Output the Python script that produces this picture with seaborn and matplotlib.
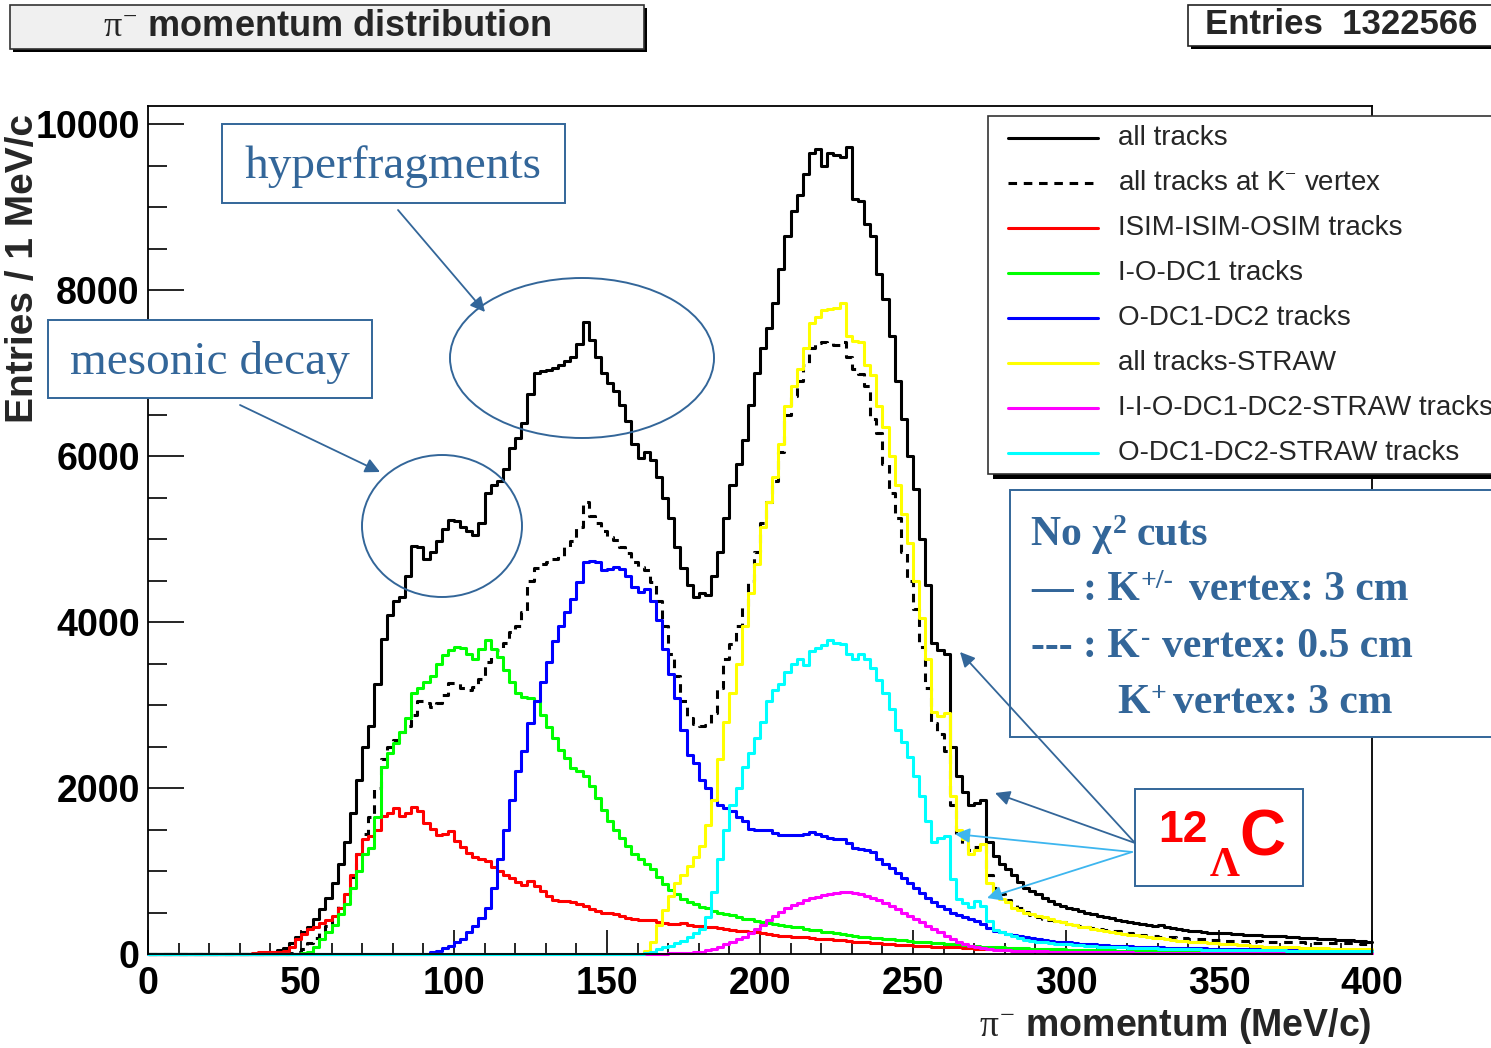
import numpy as np
import pandas as pd
import matplotlib
matplotlib.use("Agg")
import matplotlib.pyplot as plt
import seaborn as sns
from matplotlib.patches import Rectangle, Ellipse, FancyArrowPatch
from matplotlib.lines import Line2D

# ---------------------------------------------------------------------------
# Histogram contents, 2 MeV/c bins from 0 to 400 MeV/c.
# Each series starts at the given momentum; earlier bins are empty.
# ---------------------------------------------------------------------------
BIN_WIDTH = 2
P_MAX = 400

all_tracks_start = 40
all_tracks = [
    30, 45, 70, 130, 200, 260, 330, 420, 540, 680,
    850, 1080, 1350, 1700, 2100, 2500, 2750, 3250, 3800, 4080,
    4250, 4300, 4550, 4920, 4900, 4760, 4850, 4980, 5120, 5230,
    5220, 5150, 5100, 5050, 5200, 5550, 5650, 5700, 5850, 6100,
    6220, 6400, 6750, 7000, 7030, 7040, 7060, 7100, 7150, 7200,
    7350, 7620, 7400, 7200, 7000, 6880, 6780, 6620, 6420, 6150,
    5980, 6050, 5950, 5750, 5500, 5250, 4900, 4650, 4450, 4300,
    4350, 4330, 4550, 4850, 5250, 5650, 5900, 6200, 6620, 7000,
    7300, 7550, 7850, 8250, 8650, 8950, 9150, 9400, 9650, 9700,
    9500, 9650, 9630, 9600, 9720, 9100, 9080, 8800, 8650, 8200,
    7900, 7450, 6900, 6450, 6000, 5600, 5000, 4450, 3750, 3660,
    3620, 2500, 2150, 1950, 1800, 1820, 1850, 1350, 1180, 1080,
    1020, 950, 870, 800, 760, 720, 680, 640, 600, 580,
    560, 545, 520, 500, 485, 460, 445, 430, 410, 400,
    380, 372, 360, 352, 340, 345, 322, 310, 302, 290,
    280, 272, 262, 258, 250, 255, 248, 240, 242, 232,
    230, 232, 222, 220, 212, 215, 205, 200, 196, 190,
    190, 186, 180, 178, 172, 170, 165, 162, 158, 150,
]

kminus_vertex_start = 40
kminus_vertex = [
    0, 0, 0, 10, 30, 60, 130, 190, 260, 340,
    450, 580, 720, 930, 1200, 1450, 1650, 2000, 2350, 2500,
    2580, 2680, 2750, 2880, 3050, 3020, 2980, 3020, 3120, 3270,
    3270, 3200, 3180, 3220, 3320, 3520, 3580, 3660, 3750, 3880,
    3950, 4120, 4500, 4650, 4700, 4730, 4760, 4800, 4900, 4980,
    5150, 5450, 5280, 5200, 5100, 5030, 4990, 4900, 4830, 4720,
    4660, 4630, 4480, 4250, 3950, 3620, 3350, 3050, 2850, 2770,
    2750, 2760, 2900, 3200, 3550, 3740, 3950, 4200, 4500, 4850,
    5200, 5450, 5700, 6050, 6500, 6720, 6900, 7100, 7300, 7360,
    7380, 7360, 7340, 7370, 7200, 7050, 6990, 6850, 6450, 6280,
    5900, 5550, 5250, 4850, 4500, 4160, 3700, 3200, 2780, 2650,
    2450, 1800, 1450, 1330, 1250, 1290, 1320, 950, 800, 720,
    650, 600, 555, 505, 465, 440, 422, 410, 398, 380,
    362, 345, 332, 320, 312, 300, 292, 280, 272, 262,
    252, 240, 233, 222, 218, 210, 206, 200, 196, 190,
    186, 180, 176, 170, 172, 165, 160, 162, 155, 156,
    150, 152, 148, 150, 145, 146, 140, 142, 140, 136,
    135, 130, 132, 130, 128, 130, 128, 130, 126, 125,
]

isim_start = 30
isim = [
    0, 0, 10, 20, 25, 25, 30, 40, 90, 180,
    240, 300, 330, 370, 410, 460, 560, 720, 950, 1200,
    1380, 1420, 1500, 1660, 1700, 1760, 1660, 1700, 1770, 1720,
    1580, 1510, 1440, 1450, 1480, 1360, 1290, 1220, 1170, 1140,
    1120, 1050, 1000, 950, 920, 870, 830, 880, 820, 760,
    700, 650, 640, 640, 630, 600, 580, 540, 520, 500,
    490, 480, 460, 430, 420, 410, 410, 410, 390, 370,
    360, 360, 370, 350, 340, 340, 330, 320, 310, 300,
    290, 280, 280, 270, 260, 250, 240, 230, 220, 215,
    210, 205, 200, 190, 185, 180, 175, 170, 165, 160,
    150, 145, 140, 135, 130, 120, 115, 110, 110, 105,
    100, 95, 95, 90, 90, 85, 85, 80, 75, 70,
    65, 60, 55, 55, 50, 50, 45, 45, 40, 40,
    40, 35, 35, 35, 30, 32, 30, 28, 30, 28,
    27, 28, 26, 27, 25, 26, 25, 24, 25, 24,
    23, 24, 22, 23, 22, 22, 21, 22, 20, 21,
    20, 20, 19, 20, 19, 18, 19, 18, 18, 17,
    18, 17, 17, 16, 17, 16, 16, 15, 16, 15,
    15, 15, 14, 15, 14,
]

iodc1_start = 50
iodc1 = [
    10, 20, 90, 180, 270, 350, 480, 600, 800, 1000,
    1200, 1280, 1650, 2250, 2420, 2540, 2670, 2850, 3150, 3200,
    3280, 3350, 3500, 3600, 3660, 3700, 3690, 3620, 3560, 3680,
    3780, 3680, 3580, 3420, 3280, 3150, 3100, 3090, 3050, 2880,
    2740, 2600, 2460, 2360, 2240, 2200, 2150, 2030, 1880, 1740,
    1600, 1500, 1400, 1300, 1200, 1140, 1080, 1020, 930, 840,
    770, 720, 660, 630, 600, 570, 550, 520, 500, 480,
    470, 440, 420, 420, 400, 380, 370, 360, 350, 340,
    330, 320, 300, 295, 285, 270, 260, 250, 240, 225,
    220, 210, 205, 195, 190, 185, 180, 170, 165, 160,
    150, 145, 140, 135, 130, 125, 120, 115, 110, 100,
    95, 90, 85, 80, 80, 75, 75, 70, 70, 65,
    65, 60, 60, 55, 55, 52, 50, 50, 48, 46,
    45, 44, 44, 42, 42, 40, 41, 39, 40, 38,
    38, 37, 38, 36, 36, 35, 36, 34, 35, 34,
    33, 34, 33, 32, 33, 32, 31, 32, 31, 30,
    31, 30, 30, 29, 30, 29, 28, 29, 28, 28,
    28, 27, 28, 27, 27,
]

odc12_start = 90
odc12 = [
    5, 20, 40, 70, 100, 140, 180, 260, 340, 430,
    560, 800, 1150, 1500, 1850, 2200, 2450, 2780, 3050, 3280,
    3520, 3770, 3950, 4120, 4280, 4480, 4720, 4740, 4720, 4630,
    4640, 4670, 4640, 4560, 4420, 4360, 4400, 4250, 4020, 3680,
    3380, 3080, 2700, 2400, 2300, 2100, 2000, 1850, 1800, 1760,
    1720, 1650, 1600, 1510, 1500, 1500, 1490, 1460, 1440, 1440,
    1430, 1440, 1450, 1470, 1450, 1420, 1400, 1390, 1380, 1340,
    1280, 1260, 1250, 1230, 1150, 1090, 1040, 980, 920, 860,
    800, 740, 680, 630, 580, 540, 500, 470, 440, 420,
    400, 360, 310, 280, 260, 245, 230, 215, 205, 195,
    180, 170, 160, 150, 145, 140, 132, 126, 120, 115,
    110, 106, 102, 98, 95, 92, 90, 88, 85, 82,
    80, 78, 76, 74, 72, 70, 69, 68, 66, 65,
    64, 62, 62, 60, 59, 58, 57, 56, 56, 55,
    54, 53, 53, 52, 52, 51, 50, 50, 50, 49,
    49, 48, 48, 48, 47,
]

straw_all_start = 160
straw_all = [
    0, 40, 150, 350, 530, 700, 850, 950, 1060, 1170,
    1300, 1550, 1850, 2350, 2800, 3150, 3500, 3950, 4350, 4700,
    5150, 5450, 5750, 6150, 6600, 6850, 7050, 7300, 7600, 7680,
    7760, 7770, 7790, 7850, 7450, 7390, 7380, 7100, 6980, 6600,
    6350, 6000, 5650, 5300, 4950, 4500, 4050, 3550, 2920, 2870,
    2910, 1900, 1500, 1380, 1200, 1250, 1330, 850, 700, 660,
    630, 560, 530, 500, 480, 460, 440, 420, 400, 380,
    360, 345, 330, 320, 305, 290, 280, 270, 255, 245,
    235, 225, 215, 205, 195, 190, 180, 170, 160, 155,
    150, 145, 140, 135, 130, 125, 120, 115, 110, 105,
    100, 95, 90, 90, 85, 85, 80, 80, 75, 75,
    70, 70, 70, 65, 65, 65, 60, 60, 60, 60,
]

iiodc12_straw_start = 160
iiodc12_straw = [
    0, 0, 0, 3, 5, 8, 10, 12, 15, 20,
    30, 45, 65, 90, 115, 145, 175, 210, 250, 300,
    350, 410, 460, 510, 560, 590, 620, 650, 670, 690,
    710, 720, 740, 750, 745, 735, 720, 700, 680, 650,
    620, 580, 540, 500, 460, 420, 380, 340, 300, 260,
    220, 180, 140, 115, 95, 80, 70, 60, 52, 48,
    45, 42, 40, 38, 35, 33, 31, 30, 28, 27,
    26, 25, 24, 23, 22, 22, 21, 20, 20, 19,
    19, 18, 18, 17, 17, 16, 16, 15, 15, 15,
    14, 14, 14, 13, 13, 13, 12, 12, 12, 12,
    11, 11, 11, 11, 10, 10, 10, 10, 10, 9,
    9, 9, 9, 9, 8, 8, 8, 8, 8, 8,
]

odc12_straw_start = 160
odc12_straw = [
    0, 10, 30, 60, 80, 100, 130, 160, 200, 250,
    300, 450, 750, 1150, 1500, 1800, 2000, 2250, 2420, 2600,
    2800, 3050, 3180, 3250, 3400, 3500, 3550, 3480, 3650, 3690,
    3730, 3780, 3750, 3740, 3620, 3560, 3610, 3560, 3450, 3300,
    3150, 2950, 2700, 2560, 2370, 2150, 1900, 1600, 1350, 1400,
    1420, 900, 660, 620, 570, 640, 580, 400, 290, 260,
    240, 220, 190, 170, 160, 150, 140, 130, 125, 120,
    115, 110, 105, 100, 95, 90, 88, 85, 82, 80,
    78, 75, 72, 70, 68, 66, 64, 62, 60, 58,
    56, 55, 54, 52, 51, 50, 49, 48, 47, 46,
    45, 45, 44, 44, 43, 43, 42, 42, 41, 41,
    40, 40, 40, 39, 39, 39, 38, 38, 38, 38,
]

legend_labels = [
    "all tracks",
    "all tracks at K$^{-}$ vertex",
    "ISIM-ISIM-OSIM tracks",
    "I-O-DC1 tracks",
    "O-DC1-DC2 tracks",
    "all tracks-STRAW",
    "I-I-O-DC1-DC2-STRAW tracks",
    "O-DC1-DC2-STRAW tracks",
]
x_ticks = [0, 50, 100, 150, 200, 250, 300, 350, 400]
y_ticks = [0, 2000, 4000, 6000, 8000, 10000]
entries_text = "Entries  1322566"

# ---------------------------------------------------------------------------
W, H, DPI = 1491, 1048, 100
BLUE_NOTE = "#336699"
LIGHT_BLUE = "#3db6ef"


def fx(x):
    return x / W


def fy(y):
    return 1 - y / H


def full_hist(start, vals):
    n_bins = P_MAX // BIN_WIDTH
    out = np.zeros(n_bins)
    i0 = start // BIN_WIDTH
    assert i0 + len(vals) == n_bins, (start, len(vals))
    out[i0:] = vals
    return out


sns.set_theme(style="white")
plt.rcParams["font.family"] = ["Liberation Sans", "DejaVu Sans"]
plt.rcParams["mathtext.fontset"] = "custom"
plt.rcParams["mathtext.rm"] = "Liberation Serif"
plt.rcParams["mathtext.it"] = "Liberation Serif"
plt.rcParams["mathtext.bf"] = "Liberation Serif:bold"

fig = plt.figure(figsize=(W / DPI, H / DPI), dpi=DPI, facecolor="white")
ax = fig.add_axes([fx(148), fy(954), (1372 - 148) / W, (954 - 106) / H])

edges = [float(e) for e in np.arange(0, P_MAX + BIN_WIDTH, BIN_WIDTH)]
centers = np.arange(0, P_MAX, BIN_WIDTH) + BIN_WIDTH / 2

series = [
    (all_tracks_start, all_tracks, "black", "-"),
    (kminus_vertex_start, kminus_vertex, "black", (0, (2.8, 2.2))),
    (isim_start, isim, "#ff0000", "-"),
    (iodc1_start, iodc1, "#00ff00", "-"),
    (odc12_start, odc12, "#0000ff", "-"),
    (straw_all_start, straw_all, "#ffff00", "-"),
    (iiodc12_straw_start, iiodc12_straw, "#ff00ff", "-"),
    (odc12_straw_start, odc12_straw, "#00ffff", "-"),
]

LW = 2.2
for start, vals, col, ls in series:
    df = pd.DataFrame({"p": centers, "n": full_hist(start, vals)})
    sns.histplot(data=df, x="p", weights="n", bins=edges,
                 element="step", fill=False, color=col, linewidth=LW,
                 linestyle=ls, clip_on=False, ax=ax)

ax.set_xlim(0, P_MAX)
ax.set_ylim(0, 10220)
ax.set_xlabel("")
ax.set_ylabel("")
ax.set_xticks(x_ticks, labels=[str(t) for t in x_ticks], fontweight="bold")
ax.set_yticks(y_ticks, labels=[str(t) for t in y_ticks], fontweight="bold")
ax.set_xticks(np.arange(0, 401, 10), minor=True)
ax.set_yticks(np.arange(0, 10001, 500), minor=True)
ax.tick_params(axis="y", which="major", direction="in", length=26, width=1.2,
               labelsize=27, pad=6, left=True, right=False, colors="black")
ax.tick_params(axis="y", which="minor", direction="in", length=14, width=1.2,
               left=True, right=False, colors="black")
ax.tick_params(axis="x", which="major", direction="in", length=17, width=1.2,
               labelsize=27, pad=9, bottom=True, top=False, colors="black")
ax.tick_params(axis="x", which="minor", direction="in", length=8, width=1.2,
               bottom=True, top=False, colors="black")
for sp in ax.spines.values():
    sp.set_visible(True)
    sp.set_color("black")
    sp.set_linewidth(1.3)
ax.grid(False)

# axis titles
fig.text(fx(23), fy(114), "Entries / 1 MeV/c", rotation=90, ha="center",
         va="top", fontsize=28, fontweight="bold")
fig.text(fx(1372), fy(1026), r"$\pi^{-}$ momentum (MeV/c)", ha="right",
         va="center", fontsize=27, fontweight="bold")


def box(x0, y0, x1, y1, face="white", edge="black", lw=1.2, z=5, shadow=0):
    if shadow:
        fig.add_artist(Rectangle((fx(x0 + shadow), fy(y1 + shadow)),
                                 (x1 - x0) / W, (y1 - y0) / H,
                                 transform=fig.transFigure, facecolor="black",
                                 edgecolor="none", zorder=z - 0.1))
    fig.add_artist(Rectangle((fx(x0), fy(y1)), (x1 - x0) / W, (y1 - y0) / H,
                             transform=fig.transFigure, facecolor=face,
                             edgecolor=edge, linewidth=lw, zorder=z))


# title and statistics boxes
box(10, 5, 644, 49, face="#f0f0f0", edge="#333333", lw=1.2, shadow=3)
fig.text(fx(327), fy(26), r"$\pi^{-}$ momentum distribution", ha="center",
         va="center", fontsize=26, fontweight="bold", zorder=6)
box(1188, 5, 1520, 46, face="white", edge="#222222", lw=1.2, shadow=3)
fig.text(fx(1205), fy(25), entries_text, ha="left", va="center", fontsize=25,
         fontweight="bold", zorder=6)

# legend
box(988, 116, 1520, 474, face="white", edge="#333333", lw=1.2, shadow=5, z=7)
row_y = [138, 183, 228, 273, 318, 363, 408, 453]
for (start, vals, col, ls), lab, ry in zip(series, legend_labels, row_y):
    fig.add_artist(Line2D([fx(1008), fx(1098)], [fy(ry), fy(ry)],
                          transform=fig.transFigure, color=col, lw=LW,
                          linestyle=ls, zorder=8))
    fig.text(fx(1118), fy(ry), lab, ha="left", va="center", fontsize=20,
             zorder=8)

# annotation boxes
box(222, 124, 565, 203, face="white", edge=BLUE_NOTE, lw=1.4, z=9)
fig.text(fx(393), fy(167), "hyperfragments", ha="center", va="center",
         fontsize=34, family="Liberation Serif", color=BLUE_NOTE, zorder=10)
box(48, 320, 372, 398, face="white", edge=BLUE_NOTE, lw=1.4, z=9)
fig.text(fx(210), fy(362), "mesonic decay", ha="center", va="center",
         fontsize=34, family="Liberation Serif", color=BLUE_NOTE, zorder=10)

for cx, cy, w, h in [(582, 358, 264, 160), (442, 526, 160, 142)]:
    fig.add_artist(Ellipse((fx(cx), fy(cy)), w / W, h / H,
                           transform=fig.transFigure, facecolor="none",
                           edgecolor=BLUE_NOTE, linewidth=1.4, zorder=9))


def arrow(x0, y0, x1, y1, col):
    fig.add_artist(FancyArrowPatch((fx(x0), fy(y0)), (fx(x1), fy(y1)),
                                   transform=fig.transFigure,
                                   arrowstyle="-|>", mutation_scale=22,
                                   color=col, linewidth=1.3, zorder=11,
                                   shrinkA=0, shrinkB=0))


arrow(398, 210, 485, 312, BLUE_NOTE)
arrow(240, 405, 380, 472, BLUE_NOTE)

# cut description box, lines built from pieces so that the
# superscripts sit right after the letter they belong to
box(1010, 490, 1520, 737, face="white", edge=BLUE_NOTE, lw=1.4, z=9)
renderer = fig.canvas.get_renderer()
note_font = dict(family="Liberation Serif", fontweight="bold",
                 color=BLUE_NOTE, zorder=10, ha="left", va="baseline")


def rich_line(x, base_y, parts, size=30, sup_size=20, rise=12):
    cur = x
    for s, sup, gap in parts:
        t = fig.text(fx(cur), fy(base_y - (rise if sup else 0)), s,
                     fontsize=sup_size if sup else size, **note_font)
        cur = t.get_window_extent(renderer).x1 + gap


rich_line(1031, 545, [("No χ", False, 1), ("2", True, 10),
                      ("cuts", False, 0)])
rich_line(1031, 600, [("— : K", False, 1), ("+/-", True, 15),
                      ("vertex: 3 cm", False, 0)])
rich_line(1031, 657, [("--- : K", False, 1), ("-", True, 12),
                      ("vertex: 0.5 cm", False, 0)])
rich_line(1117, 713, [("K", False, 1), ("+", True, 7),
                      ("vertex: 3 cm", False, 0)])

# hypernucleus label
box(1135, 789, 1303, 886, face="white", edge=BLUE_NOTE, lw=1.4, z=9)
fig.text(fx(1183), fy(830), "12", ha="center", va="center", fontsize=32,
         fontweight="bold", color="#ff0000", zorder=10)
fig.text(fx(1225), fy(866), "Λ", ha="center", va="center", fontsize=30,
         family="Liberation Serif", fontweight="bold", color="#ff0000",
         zorder=10)
fig.text(fx(1262), fy(838), "C", ha="center", va="center", fontsize=46,
         fontweight="bold", color="#ff0000", zorder=10)

arrow(1135, 843, 960, 652, BLUE_NOTE)
arrow(1135, 843, 995, 793, BLUE_NOTE)
arrow(1132, 852, 955, 834, LIGHT_BLUE)
arrow(1132, 852, 987, 898, LIGHT_BLUE)

fig.savefig("out.png", dpi=DPI, facecolor="white")
